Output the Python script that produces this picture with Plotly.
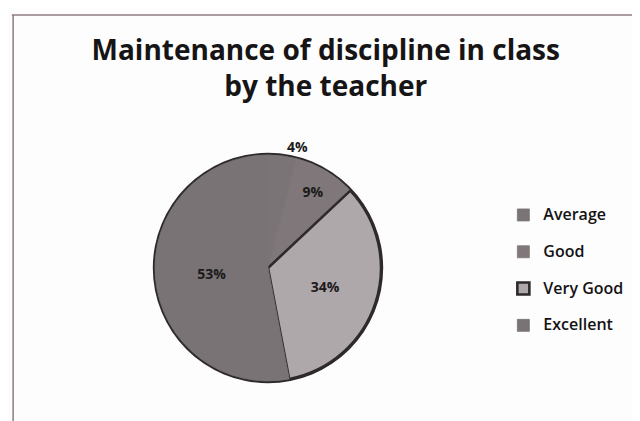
import plotly.graph_objects as go

categories = ["Average", "Good", "Very Good", "Excellent"]
percent_values = [4, 9, 34, 53]
slice_colors = ["#7b7476", "#7f7779", "#aea8aa", "#797375"]
edge_colors = ["#7b7476", "#7f7779", "#2e2a2b", "#797375"]
edge_widths = [0.8, 0.8, 2.6, 0.8]
text_positions = ["outside", "inside", "inside", "inside"]

legend_names = [f"<span style='font-size:16px'>{c}</span><br> " for c in categories]

pie_x = [0.2297, 0.5828]
pie_y = [0.114, 0.651]
ring = 2.2
ring_x = [pie_x[0] - ring / 640, pie_x[1] + ring / 640]
ring_y = [pie_y[0] - ring / 421, pie_y[1] + ring / 421]

fig = go.Figure()

# dark outline ring behind the pie
fig.add_trace(
    go.Pie(
        labels=["outline"],
        values=[1],
        marker=dict(colors=["#2e2a2b"], line=dict(width=0)),
        textinfo="none",
        hoverinfo="skip",
        showlegend=False,
        domain=dict(x=ring_x, y=ring_y),
    )
)

fig.add_trace(
    go.Pie(
        labels=legend_names,
        values=percent_values,
        sort=False,
        direction="clockwise",
        rotation=0,
        marker=dict(colors=slice_colors, line=dict(color=edge_colors, width=edge_widths)),
        textinfo="percent",
        texttemplate="<b>%{percent:.0%}</b>",
        textposition=text_positions,
        insidetextorientation="horizontal",
        textfont=dict(family="Open Sans", size=14, color="#1c1a1b"),
        outsidetextfont=dict(family="Open Sans", size=14, color="#1c1a1b"),
        domain=dict(x=pie_x, y=pie_y),
        hoverinfo="label+percent",
    )
)

fig.update_layout(
    width=640,
    height=421,
    margin=dict(l=0, r=0, t=0, b=0),
    paper_bgcolor="#fdfdfd",
    plot_bgcolor="#fdfdfd",
    title=dict(
        text="<b>Maintenance of discipline in class<br>by the teacher</b>",
        x=0.4965,
        xanchor="center",
        y=1 - 52 / 421,
        yanchor="top",
        font=dict(family="Open Sans", size=28, color="#161415"),
    ),
    legend=dict(
        x=0.774,
        xanchor="left",
        y=1 - 192 / 421,
        yanchor="top",
        valign="top",
        font=dict(family="Open Sans", size=13, color="#141213", weight=600),
        bgcolor="rgba(0,0,0,0)",
    ),
    showlegend=True,
    shapes=[
        dict(type="line", xref="paper", yref="paper", x0=0.006, x1=1.0, y0=1 - 7 / 421, y1=1 - 7 / 421,
             line=dict(color="#8c7d7f", width=1.5)),
        dict(type="line", xref="paper", yref="paper", x0=0.008, x1=0.008, y0=1 - 7 / 421, y1=1 - 416 / 421,
             line=dict(color="#8c7d7f", width=1.5)),
        dict(type="line", xref="paper", yref="paper", x0=0.006, x1=1.0, y0=1 - 415 / 421, y1=1 - 415 / 421,
             line=dict(color="#c8b8ba", width=1.5)),
    ],
)

fig.write_html("out.html")
